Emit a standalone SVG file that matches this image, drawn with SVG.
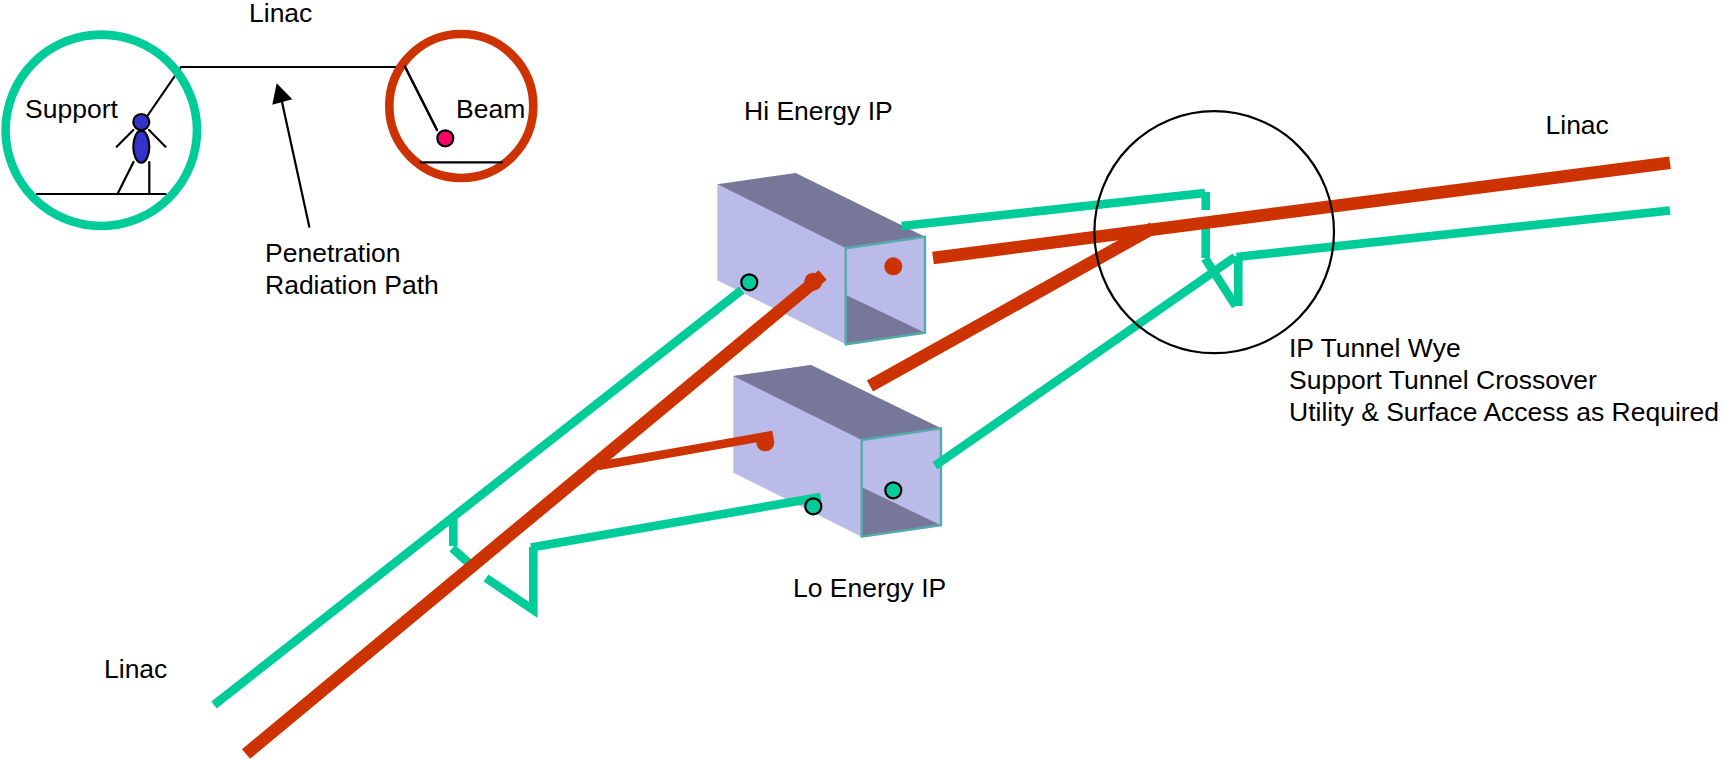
<svg xmlns="http://www.w3.org/2000/svg" width="1724" height="759" viewBox="0 0 1724 759">
<style>
text{font-family:"Liberation Sans",Arial,sans-serif;font-size:26.5px;fill:#000}
.k{fill:none;stroke:#000;stroke-width:2.2;stroke-linecap:round}
.g{fill:none;stroke:#00cc99;stroke-width:8.6}
.r{fill:none;stroke:#cc3300;stroke-width:12.6}
.r2{fill:none;stroke:#cc3300;stroke-width:8.6}
.rd{fill:#cc3300}
.gd{fill:#00cc99;stroke:#000;stroke-width:2.2}
.lt{fill:#bbbbe9}
.dk{fill:#777799}
.edge{fill:none;stroke:#55aaaa;stroke-width:2.4;stroke-linejoin:miter}
</style>
<rect width="1724" height="759" fill="#fff"/>
<g id="box-hi">
<polygon class="lt" points="717.3,184.3 845.7,248.3 845.7,344.3 717.3,280.3"/>
<polygon class="dk" points="717.3,184.3 795.7,173 925,236.7 845.7,248.3"/>
<polygon class="lt" points="845.7,248.3 925,236.7 925,332.7 845.7,344.3"/>
<polygon class="dk" points="846,295 925,332.7 846,344.3"/>
<polygon class="edge" points="845.7,248.3 925,236.7 925,332.7 845.7,344.3"/>
</g>
<g id="box-lo">
<polygon class="lt" points="733.3,376 811,365 941,428.3 861.7,440 861.7,536.7 733.3,472.7"/>
<polygon class="dk" points="733.3,376 811,365 941,428.3 861.7,440"/>
<polygon class="lt" points="861.7,440 941,428.3 941,525.3 861.7,536.7"/>
<polygon class="dk" points="862,487.3 941,525.3 862,536.7"/>
<polygon class="edge" points="861.7,440 941,428.3 941,525.3 861.7,536.7"/>
</g>
<g id="connectors">
<path class="k" d="M148,115 L181,67 H405 L437,130"/>
<path class="k" d="M309.3,226.7 L282,102"/>
<polygon points="276.7,83.3 272.3,104.7 292.3,99.3" fill="#000"/>
<path class="g" d="M214,705 L741.7,290"/>
<path class="g" d="M453.3,516 V546"/>
<path class="g" d="M452.3,548.3 L472,566"/>
<path class="g" d="M486,578 L533.3,610 V547 M531,547.5 L820.7,497"/>
<path class="r" d="M246,754 L822.7,275"/>
<path class="r2" d="M598,466 L773,435"/>
<circle class="rd" cx="813.3" cy="281.7" r="9"/>
<circle class="rd" cx="765.3" cy="442.3" r="9"/>
<path class="g" d="M901.7,226 L1205,193 M1205.7,192 V210 M1205.7,226.7 V258 M1205,258.3 L1235.7,306 M1238.3,306 V256 M1236.5,257 L1670,210.5"/>
<path class="g" d="M935,465.7 L1235,257"/>
<path class="r" d="M933,258 L1670,162.7"/>
<path class="r" d="M870,386 L1153,228"/>
</g>
<g id="wye"><ellipse cx="1214.2" cy="232.2" rx="119.8" ry="121" fill="none" stroke="#000" stroke-width="2.2"/></g>
<g id="support">
<circle cx="101.3" cy="130.3" r="95.7" fill="none" stroke="#00cc99" stroke-width="8.6"/>
<path class="k" d="M37,194 H165.5 M133.5,162 L117.5,194 M149.3,162 V194 M133.3,130 L116.7,146.7 M149,130 L165.5,146.7"/>
<circle cx="141.3" cy="122" r="8" fill="#3333cc" stroke="#000" stroke-width="2.2"/>
<ellipse cx="141.3" cy="146.7" rx="8" ry="16" fill="#3333cc" stroke="#000" stroke-width="2.2"/>
<text x="25" y="118">Support</text>
</g>
<g id="beam">
<circle cx="461.3" cy="106" r="72" fill="none" stroke="#cc3300" stroke-width="8.6"/>
<path class="k" d="M420.7,162.3 H502"/>
<path class="k" d="M405,66.5 L437,130"/>
<circle cx="445.3" cy="138.3" r="8" fill="#ff0066" stroke="#000" stroke-width="2.2"/>
<text x="456" y="118">Beam</text>
</g>
<g id="dots">
<circle class="gd" cx="749.3" cy="282.3" r="8"/>
<circle class="rd" cx="893.3" cy="266.3" r="9"/>
<circle class="gd" cx="893.3" cy="490.3" r="8"/>
<circle class="gd" cx="813.3" cy="506.3" r="8"/>
</g>
<g id="labels">
<text x="249" y="22">Linac</text>
<text x="265" y="261.7">Penetration</text>
<text x="265" y="293.7">Radiation Path</text>
<text x="744" y="120">Hi Energy IP</text>
<text x="1545.5" y="133.5">Linac</text>
<text x="1289" y="357.3">IP Tunnel Wye</text>
<text x="1289" y="389.3">Support Tunnel Crossover</text>
<text x="1289" y="421.3">Utility &amp; Surface Access as Required</text>
<text x="793" y="597">Lo Energy IP</text>
<text x="104" y="678">Linac</text>
</g>
</svg>
